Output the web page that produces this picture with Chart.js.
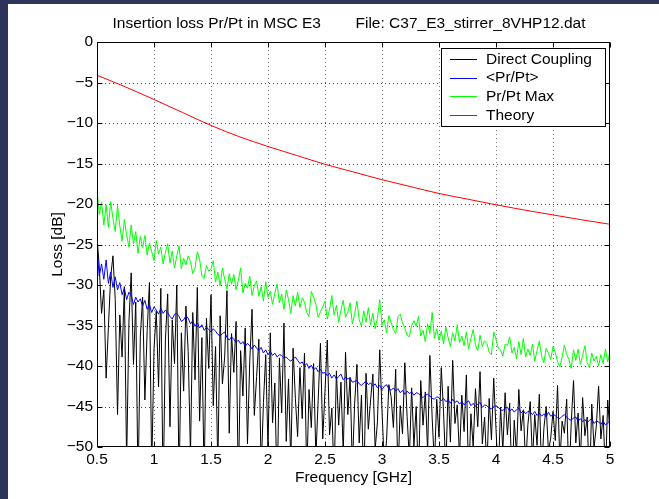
<!DOCTYPE html>
<html>
<head>
<meta charset="utf-8">
<script src="https://cdn.jsdelivr.net/npm/chart.js@4.4.1/dist/chart.umd.min.js"></script>
<style>
  html, body { margin: 0; padding: 0; background: #2c3459; width: 659px; height: 499px; overflow: hidden; }
  #wrap { position: absolute; left: 8px; top: 4px; width: 651px; height: 495px; background: #ffffff; }
  canvas { display: block; }
</style>
</head>
<body>
<div id="wrap"><canvas id="c" width="651" height="495"></canvas></div>
<script>
// ---- data ----
const titleLeft = "Insertion loss Pr/Pt in MSC E3";
const titleRight = "File: C37_E3_stirrer_8VHP12.dat";
const xAxisLabel = "Frequency [GHz]";
const yAxisLabel = "Loss [dB]";
const seriesNames = ["Direct Coupling", "<Pr/Pt>", "Pr/Pt Max", "Theory"];
const seriesColors = ["#000000", "#0000ff", "#00ff00", "#ff0000"];

const xTicks = [0.5, 1, 1.5, 2, 2.5, 3, 3.5, 4, 4.5, 5];
const yTicks = [-50, -45, -40, -35, -30, -25, -20, -15, -10, -5, 0];

// measurement sweep: 0.5 GHz to 5 GHz, 0.02 GHz step
const sweepStartGHz = 0.5;
const sweepStepGHz = 0.02;

const directCoupling = [
  -24.0, -27.8, -33.5, -30.6, -41.5, -35.2, -29.0, -26.4, -31.8, -46.0,
  -33.7, -38.9, -30.2, -52.0, -34.6, -28.5, -39.8, -32.1, -55.0, -36.4,
  -31.5, -44.2, -35.6, -29.7, -53.0, -37.9, -33.2, -42.6, -30.4, -56.0,
  -36.8, -31.1, -47.5, -34.3, -39.7, -30.0, -55.0, -35.9, -43.1, -32.6,
  -38.2, -51.0, -33.4, -41.7, -30.3, -46.8, -36.5, -54.0, -34.1, -40.3,
  -31.2, -44.9, -37.6, -52.5, -33.8, -42.2, -38.9, -30.7, -48.3, -36.0,
  -40.8, -34.5, -55.0, -38.1, -43.7, -35.3, -49.6, -39.4, -33.0, -46.1,
  -41.3, -36.7, -53.0, -44.5, -38.6, -50.2, -35.9, -47.0, -42.1, -56.0,
  -39.0, -45.8, -34.7, -49.3, -41.6, -52.0, -37.8, -44.0, -48.7, -40.2,
  -46.5, -38.4, -53.5, -42.9, -47.6, -39.7, -51.2, -44.3, -37.2, -49.0,
  -43.1, -36.8, -48.5, -45.2, -54.0, -40.6, -47.3, -42.0, -50.8, -38.3,
  -46.0, -41.4, -52.6, -44.7, -39.8, -49.5, -43.6, -55.0, -40.9, -47.8,
  -44.2, -41.0, -50.3, -46.9, -38.0, -45.5, -52.1, -49.2, -42.3, -43.8,
  -47.6, -40.4, -53.8, -44.9, -48.4, -39.6, -46.2, -51.5, -42.7, -49.9,
  -45.0, -54.5, -41.8, -47.3, -43.2, -50.6, -38.7, -46.4, -52.2, -44.1,
  -48.8, -40.2, -45.7, -53.0, -42.5, -49.4, -39.3, -47.1, -44.8, -51.3,
  -43.6, -48.1, -41.1, -54.2, -45.9, -50.0, -42.8, -47.5, -40.7, -49.6,
  -46.3, -52.8, -44.0, -49.1, -41.5, -47.8, -53.6, -45.1, -50.4, -43.3,
  -48.5, -44.6, -55.0, -46.7, -50.9, -42.9, -48.0, -45.4, -52.3, -47.2,
  -44.4, -51.6, -46.0, -49.8, -43.5, -53.2, -47.7, -45.0, -50.5, -48.9,
  -45.6, -49.2, -42.4, -51.9, -46.8, -48.3, -44.1, -54.4, -47.0, -41.8,
  -49.5, -45.8, -52.0, -43.9, -48.6, -46.3, -55.0, -44.7, -50.1, -47.4,
  -42.5, -49.0, -46.1, -53.5, -44.2, -48.4
];

const meanPrPt = [
  -25.6, -28.9, -27.4, -29.3, -26.9, -29.8, -28.4, -30.3, -29.0, -30.6,
  -29.7, -31.2, -30.4, -31.8, -30.9, -31.3, -32.4, -31.5, -32.1, -31.7,
  -32.6, -31.9, -33.0, -32.4, -33.4, -32.7, -33.1, -33.6, -32.9, -33.5,
  -33.1, -33.4, -33.9, -34.2, -33.6, -33.5, -33.9, -34.5, -34.3, -33.8,
  -34.1, -34.8, -34.4, -35.1, -34.7, -35.3, -34.9, -35.6, -35.2, -35.5,
  -35.8, -35.4, -35.7, -36.1, -36.3, -36.0, -35.8, -36.5, -36.8, -36.4,
  -36.7, -37.1, -36.8, -37.3, -37.0, -37.6, -37.2, -37.5, -37.9, -37.4,
  -37.8, -38.1, -37.7, -38.4, -38.0, -38.6, -38.2, -38.7, -38.4, -38.9,
  -38.6, -38.7, -39.0, -38.9, -39.2, -39.4, -39.1, -38.9, -39.3, -39.7,
  -39.5, -40.0, -39.7, -40.3, -39.9, -40.5, -40.2, -40.7, -40.4, -40.9,
  -40.8, -41.2, -40.9, -41.5, -41.1, -41.6, -41.3, -41.0, -41.7, -41.4,
  -41.6, -41.5, -42.0, -41.9, -41.8, -42.2, -42.4, -42.1, -41.9, -42.3,
  -42.1, -42.5, -42.2, -42.7, -42.4, -42.9, -42.5, -42.3, -42.8, -43.0,
  -42.7, -43.1, -42.8, -43.3, -43.0, -43.5, -43.1, -43.4, -43.2, -43.6,
  -43.3, -43.4, -43.7, -43.9, -43.6, -43.5, -43.7, -44.0, -44.1, -43.8,
  -43.9, -44.3, -44.0, -44.4, -44.2, -44.6, -44.1, -44.5, -44.3, -44.7,
  -44.4, -44.8, -44.5, -44.3, -44.9, -44.6, -45.0, -44.7, -44.5, -45.1,
  -44.8, -44.9, -45.2, -45.3, -45.0, -44.9, -45.1, -45.4, -45.5, -45.2,
  -45.1, -45.6, -45.3, -45.7, -45.4, -45.2, -45.8, -45.5, -45.9, -45.6,
  -45.7, -46.0, -45.6, -46.1, -45.8, -46.2, -45.9, -46.3, -45.7, -46.2,
  -46.0, -46.1, -46.4, -46.5, -46.2, -46.0, -46.3, -46.6, -46.7, -46.4,
  -46.3, -46.8, -46.5, -46.9, -46.6, -47.0, -46.7, -46.5, -47.1, -46.8,
  -46.9, -47.2, -46.8, -47.3, -47.0, -46.8
];

const maxPrPt = [
  -18.2, -21.3, -19.8, -22.6, -20.1, -22.9, -19.7, -21.8, -23.4, -20.2,
  -22.7, -24.6, -21.9, -23.8, -25.3, -22.6, -24.9, -23.4, -26.1, -24.0,
  -25.4, -23.9, -26.3, -24.8, -25.9, -27.0, -24.5, -26.2, -25.3, -27.4,
  -26.0, -24.9, -27.3, -25.8, -27.9, -26.4, -25.2, -28.0, -26.7, -27.5,
  -26.4, -27.1, -28.6, -27.9, -25.9, -26.8, -28.9, -29.2, -27.6, -28.3,
  -28.0, -27.0, -29.6, -28.4, -30.1, -27.9, -29.3, -30.5, -28.6, -29.9,
  -28.7, -30.6, -29.4, -27.9, -31.0, -29.8, -30.4, -28.9, -31.3, -30.1,
  -29.5, -31.4, -30.2, -32.0, -29.6, -31.5, -30.8, -32.4, -31.0, -29.9,
  -32.2, -31.1, -33.0, -30.6, -31.8, -33.5, -31.3, -32.6, -30.9, -32.8,
  -31.6, -32.1, -33.4, -33.9, -30.8, -31.5, -32.4, -34.0, -33.3, -32.7,
  -32.0, -34.2, -33.0, -31.3, -33.7, -32.5, -34.6, -33.1, -31.9, -34.0,
  -33.4, -32.2, -34.8, -33.6, -32.0, -34.3, -35.1, -33.2, -34.6, -32.8,
  -34.9, -33.5, -35.4, -34.1, -31.8, -35.0, -34.3, -35.9, -33.8, -34.6,
  -35.5, -36.0, -33.9, -33.6, -34.7, -35.3, -36.2, -36.4, -35.0, -34.4,
  -35.1, -33.9, -36.3, -35.6, -37.0, -34.8, -36.0, -33.4, -36.6, -35.4,
  -36.8, -35.7, -37.3, -35.2, -36.5, -37.6, -35.9, -36.9, -34.9, -37.1,
  -36.3, -37.5, -35.8, -37.9, -36.6, -35.5, -37.4, -38.1, -36.2, -37.6,
  -36.9, -37.2, -38.3, -38.6, -35.8, -36.7, -37.8, -38.0, -38.8, -37.3,
  -37.5, -36.4, -38.4, -37.7, -39.1, -37.0, -38.6, -36.6, -38.9, -37.9,
  -38.7, -37.3, -39.4, -38.1, -36.9, -38.8, -39.6, -37.8, -38.4, -39.2,
  -37.6, -38.3, -39.5, -40.1, -38.9, -37.4, -38.6, -39.2, -40.3, -38.0,
  -39.3, -37.9, -39.8, -38.7, -37.5, -39.6, -40.2, -38.4, -39.4, -38.8,
  -40.0, -38.6, -39.7, -37.9, -39.5, -38.2
];

const theoryFreqGHz = [0.5, 0.75, 1.0, 1.25, 1.5, 1.75, 2.0, 2.25, 2.5, 2.75, 3.0, 3.25, 3.5, 3.75, 4.0, 4.25, 4.5, 4.75, 5.0];
const theoryLoss = [-4.1, -5.55, -7.1, -8.7, -10.3, -11.7, -12.9, -14.0, -15.1, -16.05, -17.0, -17.85, -18.7, -19.4, -20.1, -20.75, -21.35, -21.95, -22.5];

// ---- build datasets ----
const sweepFreq = directCoupling.map((_, i) => +(sweepStartGHz + i * sweepStepGHz).toFixed(2));
const toXY = (xs, ys) => ys.map((y, i) => ({ x: xs[i], y: y }));

const FONT = '"Liberation Sans", Arial, Helvetica, sans-serif';
const FS = 15.5;

const datasets = [
  { label: seriesNames[0], data: toXY(sweepFreq, directCoupling), borderColor: seriesColors[0], order: 4 },
  { label: seriesNames[1], data: toXY(sweepFreq, meanPrPt), borderColor: seriesColors[1], order: 3 },
  { label: seriesNames[2], data: toXY(sweepFreq, maxPrPt), borderColor: seriesColors[2], order: 2 },
  { label: seriesNames[3], data: toXY(theoryFreqGHz, theoryLoss), borderColor: seriesColors[3], order: 1, cubicInterpolationMode: 'monotone' }
].map(d => Object.assign({ borderWidth: 1, pointRadius: 0, fill: false, tension: 0 }, d));

const fmtMinus = v => (v < 0 ? '\u2212' + Math.abs(v) : String(v));

const matlabPlugin = {
  id: 'matlabAxes',
  beforeDatasetsDraw(chart) {
    const { ctx, chartArea: a, scales } = chart;
    ctx.save();
    ctx.lineWidth = 1;
    ctx.setLineDash([1, 3]);
    ctx.strokeStyle = '#777777';
    xTicks.forEach(v => {
      const px = Math.round(scales.x.getPixelForValue(v)) + 0.5;
      if (Math.abs(px - a.left) < 2 || Math.abs(px - a.right) < 2) return;
      ctx.beginPath(); ctx.moveTo(px, a.top); ctx.lineTo(px, a.bottom); ctx.stroke();
    });
    ctx.strokeStyle = '#444444';
    yTicks.forEach(v => {
      const py = Math.round(scales.y.getPixelForValue(v)) + 0.5;
      if (Math.abs(py - a.top) < 2 || Math.abs(py - a.bottom) < 2) return;
      ctx.beginPath(); ctx.moveTo(a.left, py); ctx.lineTo(a.right, py); ctx.stroke();
    });
    ctx.restore();
  },
  afterDatasetsDraw(chart) {
    const { ctx, chartArea: a, scales } = chart;
    ctx.save();
    ctx.setLineDash([]);
    ctx.strokeStyle = '#000';
    ctx.lineWidth = 1;
    const L = Math.round(a.left) + 0.5, R = Math.round(a.right) - 0.5;
    const T = Math.round(a.top) + 0.5, B = Math.round(a.bottom) - 0.5;
    const tl = 5;
    ctx.beginPath();
    xTicks.forEach(v => {
      const px = Math.round(scales.x.getPixelForValue(v)) + 0.5;
      ctx.moveTo(px, B); ctx.lineTo(px, B - tl);
      ctx.moveTo(px, T); ctx.lineTo(px, T + tl);
    });
    yTicks.forEach(v => {
      const py = Math.round(scales.y.getPixelForValue(v)) + 0.5;
      ctx.moveTo(L, py); ctx.lineTo(L + tl, py);
      ctx.moveTo(R, py); ctx.lineTo(R - tl, py);
    });
    ctx.stroke();
    ctx.strokeRect(L, T, R - L, B - T);

    // legend box
    const lx = 433.5, ly = 44.5, lw = 164, lh = 78;
    ctx.fillStyle = '#fff';
    ctx.fillRect(lx, ly, lw, lh);
    ctx.strokeStyle = '#000';
    ctx.strokeRect(lx, ly, lw, lh);
    ctx.font = FS + 'px ' + FONT;
    ctx.textBaseline = 'middle';
    ctx.textAlign = 'left';
    seriesNames.forEach((name, i) => {
      const y = 55 + i * 18.67;
      ctx.strokeStyle = seriesColors[i];
      ctx.lineWidth = 1;
      ctx.beginPath();
      ctx.moveTo(442, Math.round(y) + 0.5);
      ctx.lineTo(469, Math.round(y) + 0.5);
      ctx.stroke();
      ctx.fillStyle = '#000';
      ctx.fillText(name, 478, y + 0.5);
    });

    // title
    ctx.fillStyle = '#000';
    ctx.textBaseline = 'middle';
    ctx.fillText(titleLeft, 104.5, 20);
    ctx.fillText(titleRight, 347.5, 20);
    ctx.restore();
  }
};

new Chart(document.getElementById('c'), {
  type: 'line',
  data: { datasets },
  options: {
    responsive: false,
    animation: false,
    events: [],
    layout: { padding: { left: 0, top: 38, right: 49, bottom: 0 } },
    plugins: { legend: { display: false }, title: { display: false }, tooltip: { enabled: false } },
    scales: {
      x: {
        type: 'linear', min: 0.5, max: 5,
        afterBuildTicks: s => { s.ticks = xTicks.map(v => ({ value: v })); },
        afterFit: s => { s.height = 52; },
        grid: { display: false, drawTicks: false },
        border: { display: false },
        ticks: { color: '#000', padding: 3, maxRotation: 0, autoSkip: false, font: { family: FONT, size: FS }, callback: v => String(v) },
        title: { display: true, text: xAxisLabel, color: '#000', font: { family: FONT, size: FS }, padding: { top: 0, bottom: 12 } }
      },
      y: {
        type: 'linear', min: -50, max: 0,
        afterBuildTicks: s => { s.ticks = yTicks.map(v => ({ value: v })); },
        afterFit: s => { s.width = 89; },
        grid: { display: false, drawTicks: false },
        border: { display: false },
        ticks: { color: '#000', padding: 4, autoSkip: false, font: { family: FONT, size: FS }, callback: v => fmtMinus(v) },
        title: { display: true, text: yAxisLabel, color: '#000', font: { family: FONT, size: FS }, padding: { top: 40, bottom: 0 } }
      }
    }
  },
  plugins: [matlabPlugin]
});
</script>
</body>
</html>
